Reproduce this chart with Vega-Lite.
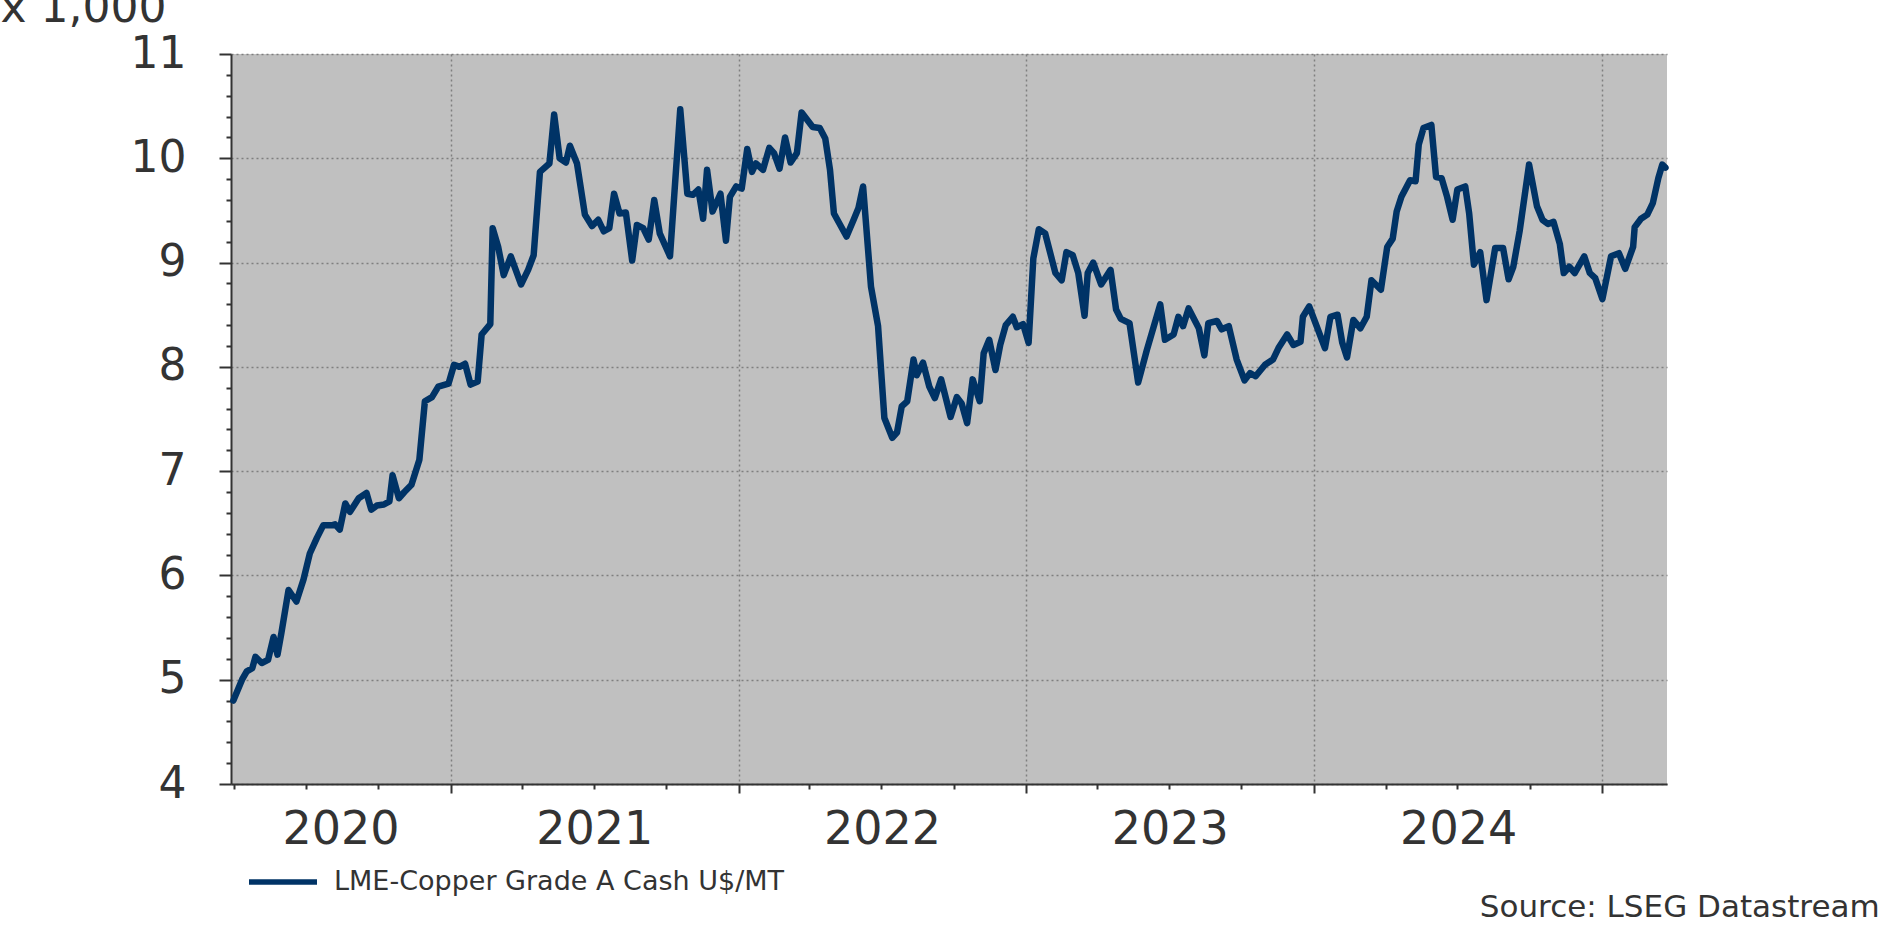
{
  "$schema": "https://vega.github.io/schema/vega-lite/v6.json",
  "width": 1436,
  "height": 730,
  "autosize": {"type": "none"},
  "padding": {"left": 231, "top": 54, "right": 227, "bottom": 142},
  "background": "white",
  "config": {"view": {"fill": "#c0c0c0", "stroke": null}, "font": "DejaVu Sans"},
  "title": {"text": "Source: LSEG Datastream", "orient": "bottom", "anchor": "end", "font": "DejaVu Sans", "fontSize": 31, "fontWeight": "normal", "color": "#333333", "dx": 211, "offset": -2},
  "data": {"values": [
    {"date": "2020-03-31", "price": 4800}, {"date": "2020-04-11", "price": 5000}, {"date": "2020-04-17", "price": 5080}, {"date": "2020-04-24", "price": 5110},
    {"date": "2020-04-28", "price": 5220}, {"date": "2020-05-06", "price": 5160}, {"date": "2020-05-14", "price": 5190}, {"date": "2020-05-21", "price": 5410},
    {"date": "2020-05-26", "price": 5240}, {"date": "2020-05-31", "price": 5450}, {"date": "2020-06-09", "price": 5860}, {"date": "2020-06-19", "price": 5750},
    {"date": "2020-06-28", "price": 5960}, {"date": "2020-07-06", "price": 6210}, {"date": "2020-07-15", "price": 6360}, {"date": "2020-07-23", "price": 6480},
    {"date": "2020-08-03", "price": 6480}, {"date": "2020-08-07", "price": 6490}, {"date": "2020-08-13", "price": 6440}, {"date": "2020-08-20", "price": 6690},
    {"date": "2020-08-26", "price": 6610}, {"date": "2020-09-06", "price": 6740}, {"date": "2020-09-16", "price": 6790}, {"date": "2020-09-22", "price": 6630},
    {"date": "2020-09-29", "price": 6670}, {"date": "2020-10-08", "price": 6680}, {"date": "2020-10-15", "price": 6710}, {"date": "2020-10-19", "price": 6960},
    {"date": "2020-10-27", "price": 6740}, {"date": "2020-11-03", "price": 6800}, {"date": "2020-11-12", "price": 6870}, {"date": "2020-11-22", "price": 7110},
    {"date": "2020-11-29", "price": 7670}, {"date": "2020-12-08", "price": 7710}, {"date": "2020-12-16", "price": 7810}, {"date": "2020-12-29", "price": 7840},
    {"date": "2021-01-05", "price": 8020}, {"date": "2021-01-12", "price": 8000}, {"date": "2021-01-19", "price": 8030}, {"date": "2021-01-26", "price": 7830},
    {"date": "2021-02-04", "price": 7860}, {"date": "2021-02-09", "price": 8310}, {"date": "2021-02-20", "price": 8410}, {"date": "2021-02-23", "price": 9330},
    {"date": "2021-03-02", "price": 9150}, {"date": "2021-03-09", "price": 8880}, {"date": "2021-03-18", "price": 9060}, {"date": "2021-03-31", "price": 8790},
    {"date": "2021-04-09", "price": 8930}, {"date": "2021-04-16", "price": 9070}, {"date": "2021-04-24", "price": 9870}, {"date": "2021-05-06", "price": 9950},
    {"date": "2021-05-12", "price": 10420}, {"date": "2021-05-19", "price": 10000}, {"date": "2021-05-27", "price": 9960}, {"date": "2021-06-01", "price": 10120},
    {"date": "2021-06-10", "price": 9950}, {"date": "2021-06-20", "price": 9460}, {"date": "2021-06-29", "price": 9350}, {"date": "2021-07-07", "price": 9410},
    {"date": "2021-07-14", "price": 9300}, {"date": "2021-07-21", "price": 9330}, {"date": "2021-07-27", "price": 9660}, {"date": "2021-08-03", "price": 9470},
    {"date": "2021-08-11", "price": 9480}, {"date": "2021-08-19", "price": 9020}, {"date": "2021-08-25", "price": 9360}, {"date": "2021-09-02", "price": 9330},
    {"date": "2021-09-09", "price": 9220}, {"date": "2021-09-16", "price": 9600}, {"date": "2021-09-23", "price": 9280}, {"date": "2021-10-06", "price": 9060},
    {"date": "2021-10-19", "price": 10470}, {"date": "2021-10-28", "price": 9660}, {"date": "2021-11-04", "price": 9650}, {"date": "2021-11-11", "price": 9700},
    {"date": "2021-11-17", "price": 9420}, {"date": "2021-11-22", "price": 9890}, {"date": "2021-11-29", "price": 9490}, {"date": "2021-12-09", "price": 9660},
    {"date": "2021-12-16", "price": 9210}, {"date": "2021-12-21", "price": 9630}, {"date": "2021-12-29", "price": 9730}, {"date": "2022-01-05", "price": 9710},
    {"date": "2022-01-12", "price": 10090}, {"date": "2022-01-18", "price": 9870}, {"date": "2022-01-23", "price": 9950}, {"date": "2022-02-01", "price": 9890},
    {"date": "2022-02-09", "price": 10100}, {"date": "2022-02-15", "price": 10050}, {"date": "2022-02-22", "price": 9900}, {"date": "2022-03-01", "price": 10200},
    {"date": "2022-03-08", "price": 9960}, {"date": "2022-03-16", "price": 10050}, {"date": "2022-03-22", "price": 10440}, {"date": "2022-03-29", "price": 10370},
    {"date": "2022-04-05", "price": 10300}, {"date": "2022-04-14", "price": 10290}, {"date": "2022-04-21", "price": 10190}, {"date": "2022-04-27", "price": 9890},
    {"date": "2022-05-02", "price": 9470}, {"date": "2022-05-18", "price": 9250}, {"date": "2022-05-27", "price": 9410}, {"date": "2022-06-02", "price": 9520},
    {"date": "2022-06-08", "price": 9730}, {"date": "2022-06-18", "price": 8770}, {"date": "2022-06-27", "price": 8390}, {"date": "2022-07-05", "price": 7510},
    {"date": "2022-07-15", "price": 7320}, {"date": "2022-07-21", "price": 7370}, {"date": "2022-07-27", "price": 7620}, {"date": "2022-08-03", "price": 7670},
    {"date": "2022-08-11", "price": 8070}, {"date": "2022-08-15", "price": 7920}, {"date": "2022-08-23", "price": 8040}, {"date": "2022-08-31", "price": 7810},
    {"date": "2022-09-07", "price": 7700}, {"date": "2022-09-15", "price": 7880}, {"date": "2022-09-27", "price": 7520}, {"date": "2022-10-05", "price": 7710},
    {"date": "2022-10-11", "price": 7650}, {"date": "2022-10-18", "price": 7460}, {"date": "2022-10-25", "price": 7880}, {"date": "2022-11-03", "price": 7670},
    {"date": "2022-11-08", "price": 8130}, {"date": "2022-11-15", "price": 8260}, {"date": "2022-11-23", "price": 7970}, {"date": "2022-11-29", "price": 8210},
    {"date": "2022-12-06", "price": 8400}, {"date": "2022-12-15", "price": 8480}, {"date": "2022-12-20", "price": 8380}, {"date": "2022-12-28", "price": 8410},
    {"date": "2023-01-04", "price": 8230}, {"date": "2023-01-10", "price": 9040}, {"date": "2023-01-17", "price": 9320}, {"date": "2023-01-25", "price": 9280},
    {"date": "2023-02-07", "price": 8900}, {"date": "2023-02-15", "price": 8830}, {"date": "2023-02-21", "price": 9100}, {"date": "2023-03-01", "price": 9070},
    {"date": "2023-03-08", "price": 8900}, {"date": "2023-03-16", "price": 8490}, {"date": "2023-03-20", "price": 8900}, {"date": "2023-03-27", "price": 9000},
    {"date": "2023-04-06", "price": 8790}, {"date": "2023-04-18", "price": 8930}, {"date": "2023-04-25", "price": 8550}, {"date": "2023-05-01", "price": 8460},
    {"date": "2023-05-12", "price": 8420}, {"date": "2023-05-23", "price": 7850}, {"date": "2023-06-03", "price": 8160}, {"date": "2023-06-20", "price": 8600},
    {"date": "2023-06-26", "price": 8260}, {"date": "2023-07-07", "price": 8310}, {"date": "2023-07-13", "price": 8480}, {"date": "2023-07-19", "price": 8390},
    {"date": "2023-07-26", "price": 8560}, {"date": "2023-08-08", "price": 8370}, {"date": "2023-08-15", "price": 8110}, {"date": "2023-08-20", "price": 8420},
    {"date": "2023-08-31", "price": 8440}, {"date": "2023-09-06", "price": 8360}, {"date": "2023-09-15", "price": 8390}, {"date": "2023-09-25", "price": 8070},
    {"date": "2023-10-05", "price": 7870}, {"date": "2023-10-12", "price": 7940}, {"date": "2023-10-19", "price": 7910}, {"date": "2023-10-31", "price": 8020},
    {"date": "2023-11-10", "price": 8070}, {"date": "2023-11-17", "price": 8180}, {"date": "2023-11-28", "price": 8310}, {"date": "2023-12-06", "price": 8210},
    {"date": "2023-12-15", "price": 8240}, {"date": "2023-12-18", "price": 8480}, {"date": "2023-12-26", "price": 8580}, {"date": "2024-01-15", "price": 8180},
    {"date": "2024-01-22", "price": 8480}, {"date": "2024-01-31", "price": 8500}, {"date": "2024-02-06", "price": 8230}, {"date": "2024-02-12", "price": 8090},
    {"date": "2024-02-20", "price": 8450}, {"date": "2024-02-29", "price": 8370}, {"date": "2024-03-08", "price": 8480}, {"date": "2024-03-14", "price": 8830},
    {"date": "2024-03-26", "price": 8740}, {"date": "2024-04-03", "price": 9150}, {"date": "2024-04-10", "price": 9230}, {"date": "2024-04-15", "price": 9490},
    {"date": "2024-04-21", "price": 9630}, {"date": "2024-05-02", "price": 9790}, {"date": "2024-05-09", "price": 9780}, {"date": "2024-05-13", "price": 10130},
    {"date": "2024-05-19", "price": 10290}, {"date": "2024-05-29", "price": 10320}, {"date": "2024-06-04", "price": 9820}, {"date": "2024-06-11", "price": 9810},
    {"date": "2024-06-18", "price": 9630}, {"date": "2024-06-25", "price": 9410}, {"date": "2024-07-01", "price": 9700}, {"date": "2024-07-11", "price": 9730},
    {"date": "2024-07-16", "price": 9470}, {"date": "2024-07-22", "price": 8980}, {"date": "2024-07-30", "price": 9100}, {"date": "2024-08-07", "price": 8640},
    {"date": "2024-08-18", "price": 9140}, {"date": "2024-08-28", "price": 9140}, {"date": "2024-09-04", "price": 8840}, {"date": "2024-09-10", "price": 8960},
    {"date": "2024-09-18", "price": 9300}, {"date": "2024-09-30", "price": 9940}, {"date": "2024-10-10", "price": 9540}, {"date": "2024-10-17", "price": 9410},
    {"date": "2024-10-24", "price": 9370}, {"date": "2024-10-31", "price": 9390}, {"date": "2024-11-08", "price": 9180}, {"date": "2024-11-13", "price": 8900},
    {"date": "2024-11-20", "price": 8960}, {"date": "2024-11-27", "price": 8900}, {"date": "2024-12-09", "price": 9060}, {"date": "2024-12-16", "price": 8900},
    {"date": "2024-12-23", "price": 8850}, {"date": "2025-01-01", "price": 8650}, {"date": "2025-01-12", "price": 9060}, {"date": "2025-01-22", "price": 9090},
    {"date": "2025-01-30", "price": 8940}, {"date": "2025-02-09", "price": 9150}, {"date": "2025-02-11", "price": 9340}, {"date": "2025-02-19", "price": 9420},
    {"date": "2025-02-27", "price": 9460}, {"date": "2025-03-06", "price": 9570}, {"date": "2025-03-13", "price": 9810}, {"date": "2025-03-18", "price": 9940},
    {"date": "2025-03-22", "price": 9910}
  ]},
  "layer": [
    {
      "mark": {"type": "line", "strokeWidth": 6.5, "strokeJoin": "round", "strokeCap": "round"},
      "encoding": {
        "x": {
          "field": "date", "type": "temporal",
          "scale": {"type": "utc", "domain": [{"year": 2020, "month": 3, "date": 28, "utc": true}, {"year": 2025, "month": 3, "date": 24, "utc": true}]},
          "axis": {
            "orient": "bottom", "title": null, "labels": false,
            "values": [{"year": 2021, "month": 1, "date": 1, "utc": true}, {"year": 2022, "month": 1, "date": 1, "utc": true}, {"year": 2023, "month": 1, "date": 1, "utc": true}, {"year": 2024, "month": 1, "date": 1, "utc": true}, {"year": 2025, "month": 1, "date": 1, "utc": true}],
            "tickSize": 9, "tickWidth": 2, "tickColor": "#333333",
            "domain": true, "domainColor": "#333333", "domainWidth": 2,
            "grid": true, "gridColor": "#7f7f7f", "gridDash": [2, 3], "gridWidth": 1.5
          }
        },
        "y": {
          "field": "price", "type": "quantitative",
          "scale": {"domain": [4000, 11000], "nice": false, "zero": false},
          "axis": {
            "orient": "left",
            "values": [4000, 5000, 6000, 7000, 8000, 9000, 10000, 11000],
            "labelExpr": "datum.value / 1000",
            "labelFont": "DejaVu Sans", "labelFontSize": 44, "labelColor": "#333333", "labelPadding": 33,
            "labelOverlap": false, "labelFlush": false, "labelBound": false,
            "tickSize": 12, "tickWidth": 2, "tickColor": "#333333",
            "domain": true, "domainColor": "#333333", "domainWidth": 2,
            "grid": true, "gridColor": "#7f7f7f", "gridDash": [2, 3], "gridWidth": 1.5,
            "title": "x 1,000", "titleAngle": 0, "titleAlign": "left", "titleBaseline": "alphabetic",
            "titleX": -231, "titleY": -33, "titleFont": "DejaVu Sans", "titleFontSize": 44, "titleFontWeight": "normal", "titleColor": "#333333"
          }
        },
        "color": {
          "datum": "LME-Copper Grade A Cash U$/MT", "type": "nominal",
          "scale": {"range": ["#003366"]},
          "legend": {
            "title": null, "orient": "none", "legendX": 15, "legendY": 791, "direction": "horizontal",
            "symbolType": "stroke", "symbolSize": 4624, "symbolStrokeWidth": 5.5,
            "labelFont": "DejaVu Sans", "labelFontSize": 27, "labelColor": "#333333", "labelOffset": 14,
            "labelLimit": 0, "padding": 0
          }
        }
      }
    },
    {
      "mark": {"type": "line", "strokeOpacity": 0},
      "encoding": {
        "x": {
          "field": "date", "type": "temporal",
          "axis": {
            "orient": "bottom", "title": null, "labels": false, "domain": false, "grid": false,
            "values": [
              {"year": 2020, "month": 4, "date": 1, "utc": true}, {"year": 2020, "month": 7, "date": 1, "utc": true}, {"year": 2020, "month": 10, "date": 1, "utc": true},
              {"year": 2021, "month": 4, "date": 1, "utc": true}, {"year": 2021, "month": 7, "date": 1, "utc": true}, {"year": 2021, "month": 10, "date": 1, "utc": true},
              {"year": 2022, "month": 4, "date": 1, "utc": true}, {"year": 2022, "month": 7, "date": 1, "utc": true}, {"year": 2022, "month": 10, "date": 1, "utc": true},
              {"year": 2023, "month": 4, "date": 1, "utc": true}, {"year": 2023, "month": 7, "date": 1, "utc": true}, {"year": 2023, "month": 10, "date": 1, "utc": true},
              {"year": 2024, "month": 4, "date": 1, "utc": true}, {"year": 2024, "month": 7, "date": 1, "utc": true}, {"year": 2024, "month": 10, "date": 1, "utc": true}
            ],
            "tickSize": 5, "tickWidth": 2, "tickColor": "#333333"
          }
        },
        "y": {
          "field": "price", "type": "quantitative",
          "axis": {
            "orient": "left", "title": null, "labels": false, "domain": false, "grid": false,
            "values": [4200, 4400, 4600, 4800, 5200, 5400, 5600, 5800, 6200, 6400, 6600, 6800, 7200, 7400, 7600, 7800, 8200, 8400, 8600, 8800, 9200, 9400, 9600, 9800, 10200, 10400, 10600, 10800],
            "tickSize": 5, "tickWidth": 2, "tickColor": "#333333"
          }
        }
      }
    },
    {
      "mark": {"type": "line", "strokeOpacity": 0},
      "encoding": {
        "x": {
          "field": "date", "type": "temporal",
          "axis": {
            "orient": "bottom", "title": null, "domain": false, "grid": false, "ticks": false, "tickSize": 0,
            "values": [{"year": 2020, "month": 8, "date": 14, "utc": true}, {"year": 2021, "month": 7, "date": 2, "utc": true}, {"year": 2022, "month": 7, "date": 2, "utc": true}, {"year": 2023, "month": 7, "date": 2, "utc": true}, {"year": 2024, "month": 7, "date": 2, "utc": true}],
            "labelExpr": "utcFormat(datum.value, '%Y')",
            "labelFont": "DejaVu Sans", "labelFontSize": 46, "labelColor": "#333333", "labelPadding": 23,
            "labelOverlap": false, "labelFlush": false, "labelBound": false
          }
        },
        "y": {"field": "price", "type": "quantitative", "axis": null}
      }
    }
  ],
  "resolve": {"axis": {"x": "independent", "y": "independent"}}
}
